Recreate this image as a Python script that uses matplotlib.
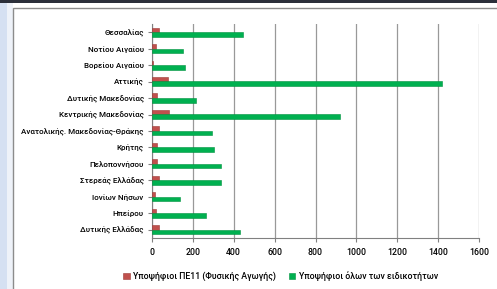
import numpy as np
import matplotlib.pyplot as plt
from matplotlib.patches import Rectangle

regions = ['Θεσσαλίας', 'Νοτίου Αιγαίου', 'Βορείου Αιγαίου', 'Αττικής',
           'Δυτικής Μακεδονίας', 'Κεντρικής Μακεδονίας',
           'Ανατολικής. Μακεδονίας-Θράκης', 'Κρήτης', 'Πελοποννήσου',
           'Στερεάς Ελλάδας', 'Ιονίων Νήσων', 'Ηπείρου', 'Δυτικής Ελλάδας']
pe11 = [35, 18, 5, 78, 25, 85, 33, 23, 26, 32, 15, 20, 32]
all_spec = [445, 150, 160, 1420, 215, 920, 295, 305, 340, 340, 135, 265, 430]

plt.rcParams['font.family'] = ['Roboto', 'DejaVu Sans']
plt.rcParams['font.weight'] = 'medium'

fig = plt.figure(figsize=(4.97, 2.89), dpi=100)
fig.patch.set_facecolor('white')
# window frame around the chart
fig.patches.append(Rectangle((0, 0), 7 / 497, 1, transform=fig.transFigure,
                             facecolor='#d5e0f2', edgecolor='none'))
fig.patches.append(Rectangle((7 / 497, 0), 6 / 497, 1, transform=fig.transFigure,
                             facecolor='#eef2f9', edgecolor='none'))
fig.patches.append(Rectangle((0, 1 - 3 / 289), 1, 3 / 289, transform=fig.transFigure,
                             facecolor='#2b2f3a', edgecolor='none'))
fig.patches.append(Rectangle((13 / 497, -0.01), 1, 1 - 8 / 289 + 0.01,
                             transform=fig.transFigure, facecolor='none',
                             edgecolor='#8c8c8c', linewidth=1.0))

ax = fig.add_axes([152 / 497, 51 / 289, 327 / 497, 214 / 289])
y = np.arange(len(regions))
ax.barh(y - 0.13, pe11, height=0.3, color='#c0504d', edgecolor='#9c3a37',
        linewidth=0.4, label='Υποψήφιοι ΠΕ11 (Φυσικής Αγωγής)', zorder=3)
ax.barh(y + 0.13, all_spec, height=0.28, color='#00b050', edgecolor='#00913f',
        linewidth=0.4, label='Υποψήφιοι όλων των ειδικοτήτων', zorder=3)

ax.set_yticks(y)
ax.set_yticklabels(regions, fontsize=5.8)
ax.set_ylim(len(regions) - 0.5, -0.5)
ax.set_xlim(0, 1600)
ax.set_xticks(np.arange(0, 1601, 200))
ax.tick_params(axis='x', labelsize=6.3, length=3, color='#808080', pad=4)
ax.tick_params(axis='y', length=3, color='#808080', pad=3)
ax.grid(axis='x', color='#999999', linewidth=0.9, zorder=0)
for s in ['top', 'right']:
    ax.spines[s].set_visible(False)
for s in ['left', 'bottom']:
    ax.spines[s].set_color('#808080')
    ax.spines[s].set_linewidth(0.8)

fig.legend(loc='lower center', bbox_to_anchor=(0.565, 0.0), ncol=2,
           fontsize=6.3, frameon=False, handlelength=0.7, handleheight=0.7,
           columnspacing=1.5, handletextpad=0.4)

fig.savefig('out.png', dpi=100)
